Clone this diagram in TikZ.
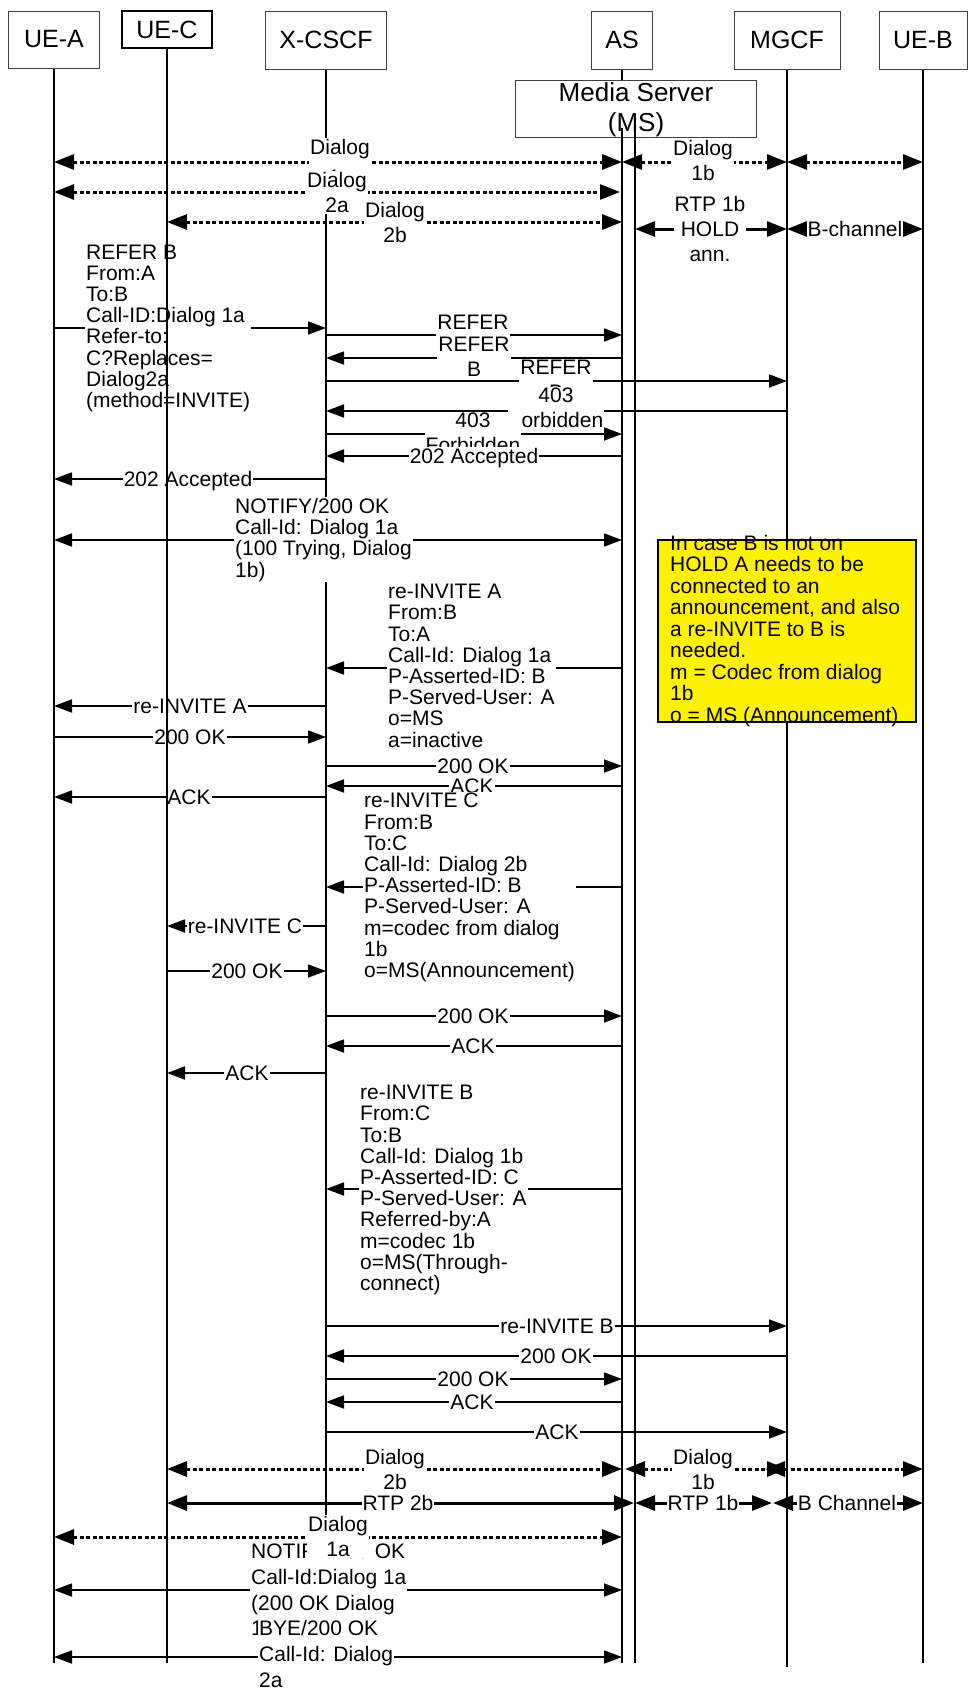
\documentclass[tikz,border=0pt]{standalone}
\usepackage{fontspec}
\setmainfont{Liberation Sans}
\usetikzlibrary{arrows.meta}
\tikzset{
  tipS/.tip={Triangle[length=18pt,width=13pt]},
  tipL/.tip={Triangle[length=20pt,width=15pt]},
  msg/.style={line width=1.8pt,-tipS},
  both/.style={line width=1.8pt,tipS-tipS},
  dots/.style={line width=3pt,dash pattern=on 4pt off 2.5pt,tipL-tipL},
  rtp/.style={line width=3pt,tipL-tipL},
  life/.style={line width=1.3pt},
  hdr/.style={draw=black!75,line width=1pt,inner sep=0pt,font=\fontsize{25}{30}\selectfont},
  lab/.style={fill=white,inner sep=1pt,align=center,font=\fontsize{21}{25}\selectfont},
  blk/.style={fill=white,inner sep=1pt,align=left,font=\fontsize{21}{21.2}\selectfont},
  blkw/.style={fill=white,inner sep=1pt,align=left,font=\fontsize{21}{25.8}\selectfont},
  txt/.style={inner sep=1pt,align=left,font=\fontsize{21}{21.5}\selectfont},
}
\newcommand\msgline[5]{%
  \coordinate (#1s) at (#4,#3);
  \coordinate (#1e) at (#5,#3);
  \draw[#2] (#1s) -- (#1e);}
\newcommand\slab[4]{\node[lab,anchor=base] (#1) at (#2,#3+7.5) {#4};}
\newcommand\mlab[4]{\node[lab,anchor=north] (#1) at (#2,#3-9) {#4};}
\newcommand\blab[5]{\node[#2,anchor=north west] (#1) at (#3-1,#4-9) {#5};}
\def\xA{54}\def\xC{167}\def\xX{326}\def\xAS{622}\def\xMS{635}\def\xMG{787}\def\xB{923}
\begin{document}
\begin{tikzpicture}[x=1pt,y=-1pt]
\useasboundingbox (0,0) rectangle (968,1697);
% headers
\node[hdr,minimum width=91pt,minimum height=57pt] (ueA) at (\xA,39.5) {UE-A};
\node[hdr,draw=black,line width=2pt,minimum width=90pt,minimum height=37pt] (ueC) at (\xC,29.5) {UE-C};
\node[hdr,minimum width=121pt,minimum height=58pt] (xc) at (\xX,40) {X-CSCF};
\node[hdr,minimum width=61pt,minimum height=58pt] (as) at (\xAS,40) {AS};
\node[hdr,minimum width=106pt,minimum height=58pt] (mg) at (\xMG,40) {MGCF};
\node[hdr,minimum width=88pt,minimum height=58pt] (ueB) at (\xB,40) {UE-B};
% lifelines (except UE-C)
\coordinate (lA) at (\xA,1663);
\coordinate (lX) at (\xX,1663);
\coordinate (lAS) at (\xAS,1663);
\coordinate (lMS) at (\xMS,1663);
\coordinate (lMG) at (\xMG,1667);
\coordinate (lB) at (\xB,1663);
\coordinate (lC) at (\xC,1663);
\coordinate (asTop) at (\xAS,128);
\coordinate (msTop) at (\xMS,128);
\draw[life] (ueA.south) -- (lA);
\draw[life] (xc.south) -- (lX);
\draw[life] (mg.south) -- (lMG);
\draw[life] (ueB.south) -- (lB);
% media server
\node[draw=black!75,line width=1pt,fill=white,minimum width=241pt,minimum height=57pt] (ms) at (635.5,108.5) {};
\draw[life] (as.south) -- (as.south |- ms.north);
\node[inner sep=0pt,font=\fontsize{26}{30}\selectfont] (msT1) at (636,92) {Media Server};
\node[fill=white,inner sep=0pt,font=\fontsize{26}{30}\selectfont] (msT2) at (636,125) {(MS)};
\draw[life] (asTop) -- (lAS);
\draw[life] (msTop) -- (lMS);
% top dialogs
\msgline{d1}{dots}{162}{\xA}{\xAS}
\mlab{d1l}{340}{147}{Dialog\\[5pt]1a}
\msgline{d2}{dots}{162}{\xAS}{\xMG}
\mlab{d2l}{703}{148}{Dialog\\1b}
\msgline{d3}{dots}{162}{\xMG}{\xB}
\msgline{d4}{dots}{192}{\xA}{620}
\mlab{d4l}{337}{180}{Dialog\\2a}
\msgline{d5}{dots}{222}{\xC}{\xAS}
\mlab{d5l}{395}{210}{Dialog\\2b}
\msgline{r1}{rtp}{229}{\xMS}{\xMG}
\mlab{r1l}{710}{204}{RTP 1b\\HOLD\\ann.}
\msgline{r2}{rtp}{229}{\xMG}{\xB}
\slab{r2l}{855}{229}{B-channel}
% REFER
\msgline{m1}{msg}{328}{\xA}{\xX}
\blab{m1l}{blk}{86}{252.5}{REFER B\\From:A\\To:B\\Call-ID:Dialog 1a\\Refer-to:\\C?Replaces=\\Dialog2a\\(method=INVITE)}
\msgline{m2}{msg}{335}{\xX}{\xAS}
\mlab{m2l}{473}{323}{REFER\\B}
\msgline{m3}{msg}{358}{\xAS}{\xX}
\mlab{m3l}{474}{345}{REFER\\B}
\msgline{m4}{msg}{381}{\xX}{\xMG}
\mlab{m4l}{556}{368}{REFER\\B}
\msgline{m5}{msg}{411}{\xMG}{\xX}
\mlab{m5l}{556}{396}{403\\Forbidden}
\msgline{m6}{msg}{434}{\xX}{\xAS}
\mlab{m6l}{473}{421}{403\\Forbidden}
\msgline{m7}{msg}{456}{\xAS}{\xX}
\slab{m7l}{474}{456}{202 Accepted}
\msgline{m8}{msg}{479}{\xX}{\xA}
\slab{m8l}{188}{479}{202 Accepted}
\msgline{m9}{both}{540}{\xA}{\xAS}
\blab{m9l}{blk}{235}{506}{NOTIFY/200 OK\\Call-Id: Dialog 1a\\(100 Trying, Dialog\\1b)}
% note
\node[fill=yellow,inner sep=0pt,minimum width=258pt,minimum height=182pt] (note) at (787,631) {};
\node[txt,anchor=north west] (noteT) at (669,534) {In case B is not on\\HOLD A needs to be\\connected to an\\announcement, and also\\a re-INVITE to B is\\needed.\\m = Codec from dialog\\1b\\o = MS (Announcement)};
\draw[line width=1.5pt] (note.north west) rectangle (note.south east);
% re-INVITE A
\msgline{m10}{msg}{668}{\xAS}{\xX}
\blab{m10l}{blk}{388}{592}{re-INVITE A\\From:B\\To:A\\Call-Id: Dialog 1a\\P-Asserted-ID: B\\P-Served-User: A\\o=MS\\a=inactive}
\msgline{m11}{msg}{706}{\xX}{\xA}
\slab{m11l}{190}{706}{re-INVITE A}
\msgline{m12}{msg}{737}{\xA}{\xX}
\slab{m12l}{190}{737}{200 OK}
\msgline{m13}{msg}{766}{\xX}{\xAS}
\slab{m13l}{473}{766}{200 OK}
\msgline{m14}{msg}{786}{\xAS}{\xX}
\slab{m14l}{472}{786}{ACK}
\msgline{m15}{msg}{797}{\xX}{\xA}
\slab{m15l}{189}{797}{ACK}
% re-INVITE C
\msgline{m16}{msg}{887}{\xAS}{\xX}
\blab{m16l}{blk}{364}{801}{re-INVITE C\\From:B\\To:C\\Call-Id: Dialog 2b\\P-Asserted-ID: B\\P-Served-User: A\\m=codec from dialog\\1b\\o=MS(Announcement)}
\msgline{m17}{msg}{926}{\xX}{\xC}
\slab{m17l}{245}{926}{re-INVITE C}
\msgline{m18}{msg}{971}{\xC}{\xX}
\slab{m18l}{247}{971}{200 OK}
\msgline{m19}{msg}{1016}{\xX}{\xAS}
\slab{m19l}{473}{1016}{200 OK}
\msgline{m20}{msg}{1046}{\xAS}{\xX}
\slab{m20l}{473}{1046}{ACK}
\msgline{m21}{msg}{1073}{\xX}{\xC}
\slab{m21l}{247}{1073}{ACK}
% re-INVITE B
\msgline{m22}{msg}{1189}{\xAS}{\xX}
\blab{m22l}{blk}{360}{1093}{re-INVITE B\\From:C\\To:B\\Call-Id: Dialog 1b\\P-Asserted-ID: C\\P-Served-User: A\\Referred-by:A\\m=codec 1b\\o=MS(Through-\\connect)}
\msgline{m23}{msg}{1326}{\xX}{\xMG}
\slab{m23l}{557}{1326}{re-INVITE B}
\msgline{m24}{msg}{1356}{\xMG}{\xX}
\slab{m24l}{556}{1356}{200 OK}
\msgline{m25}{msg}{1379}{\xX}{\xAS}
\slab{m25l}{473}{1379}{200 OK}
\msgline{m26}{msg}{1402}{\xAS}{\xX}
\slab{m26l}{472}{1402}{ACK}
\msgline{m27}{msg}{1432}{\xX}{\xMG}
\slab{m27l}{557}{1432}{ACK}
% bottom dialogs
\msgline{d6}{dots}{1469}{\xC}{\xAS}
\mlab{d6l}{395}{1457}{Dialog\\2b}
\msgline{d7}{dots}{1469}{625}{\xMG}
\mlab{d7l}{703}{1457}{Dialog\\1b}
\msgline{d8}{dots}{1469}{765}{\xB}
\msgline{r3}{rtp}{1503}{\xC}{634}
\slab{r3l}{398}{1503}{RTP 2b}
\msgline{r4}{rtp}{1503}{\xMS}{772}
\slab{r4l}{703}{1503}{RTP 1b}
\msgline{r5}{rtp}{1503}{773}{\xB}
\slab{r5l}{847}{1503}{B Channel}
\msgline{d9}{dots}{1537}{\xA}{\xAS}
\msgline{m28}{both}{1590}{\xA}{\xAS}
\blab{m28l}{blkw}{251}{1551}{NOTIFY/200 OK\\Call-Id:Dialog 1a\\(200 OK Dialog\\1b)}
\mlab{d9l}{338}{1524}{Dialog\\1a}
\msgline{m29}{both}{1657}{\xA}{\xAS}
\blab{m29l}{blkw}{259}{1628}{BYE/200 OK\\Call-Id: Dialog\\2a}
% UE-C lifeline on top
\draw[life] (ueC.south) -- (lC);
\end{tikzpicture}
\end{document}
